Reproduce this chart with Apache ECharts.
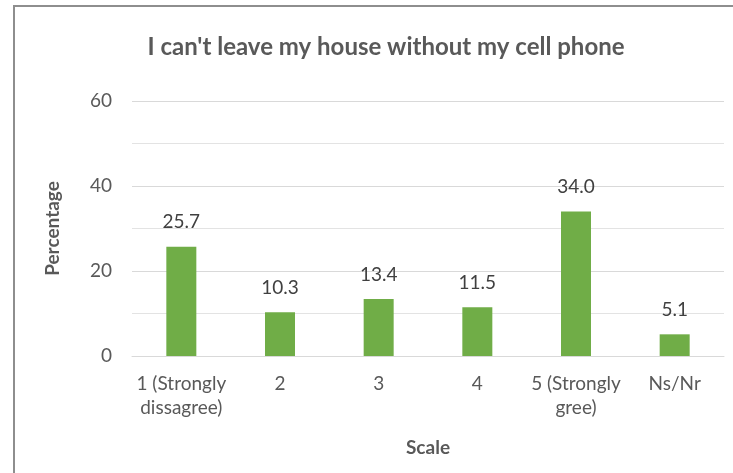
<!DOCTYPE html>
<html>
<head>
<meta charset="utf-8">
<script src="https://cdn.jsdelivr.net/npm/echarts@6/dist/echarts.min.js"></script>
<style>
  html, body { margin: 0; padding: 0; background: #fff; }
  #chart { width: 733px; height: 473px; }
  #frame {
    position: absolute; left: 13px; top: 5px; width: 760px; height: 520px;
    border: 2px solid #8e8e8e; box-sizing: border-box; pointer-events: none;
  }
</style>
</head>
<body>
<div id="chart"></div>
<div id="frame"></div>
<script>
const categories = ["1 (Strongly\ndissagree)", "2", "3", "4", "5 (Strongly\ngree)", "Ns/Nr"];
const values = [25.7, 10.3, 13.4, 11.5, 34.0, 5.1];

const chart = echarts.init(document.getElementById("chart"));

const font = "Lato, 'Open Sans', sans-serif";

const option = {
  animation: false,
  title: {
    text: "I can't leave my house without my cell phone",
    left: 381,
    top: 30,
    textAlign: "center",
    textStyle: { fontFamily: font, fontSize: 24, fontWeight: "bold", color: "#595959" },
  },
  grid: { left: 132, right: 9, top: 101, bottom: 117 },
  xAxis: {
    type: "category",
    data: categories,
    name: "Scale",
    nameLocation: "middle",
    nameGap: 82,
    nameTextStyle: { fontFamily: font, fontSize: 19, fontWeight: "bold", color: "#595959" },
    axisLine: { lineStyle: { color: "#d9d9d9", width: 1 } },
    axisTick: { show: false },
    axisLabel: { fontFamily: font, fontSize: 19, color: "#595959", margin: 16, lineHeight: 24, interval: 0 },
  },
  yAxis: {
    type: "value",
    min: 0,
    max: 60,
    interval: 20,
    name: "Percentage",
    nameLocation: "middle",
    nameGap: 70,
    nameTextStyle: { fontFamily: font, fontSize: 19, fontWeight: "bold", color: "#595959" },
    axisLine: { show: false },
    axisTick: { show: false },
    axisLabel: { fontFamily: font, fontSize: 19, color: "#595959", margin: 20 },
    splitLine: { lineStyle: { color: "#d9d9d9", width: 1 } },
    minorTick: { show: false, splitNumber: 2 },
    minorSplitLine: { show: true, lineStyle: { color: "#e3e3e3", width: 1 } },
  },
  series: [
    {
      type: "bar",
      data: values,
      barWidth: 30,
      itemStyle: { color: "#70ad47" },
      label: {
        show: true,
        position: "top",
        distance: 15,
        formatter: (p) => p.value.toFixed(1),
        fontFamily: font,
        fontSize: 19,
        color: "#404040",
      },
    },
  ],
};

chart.setOption(option);
</script>
</body>
</html>
